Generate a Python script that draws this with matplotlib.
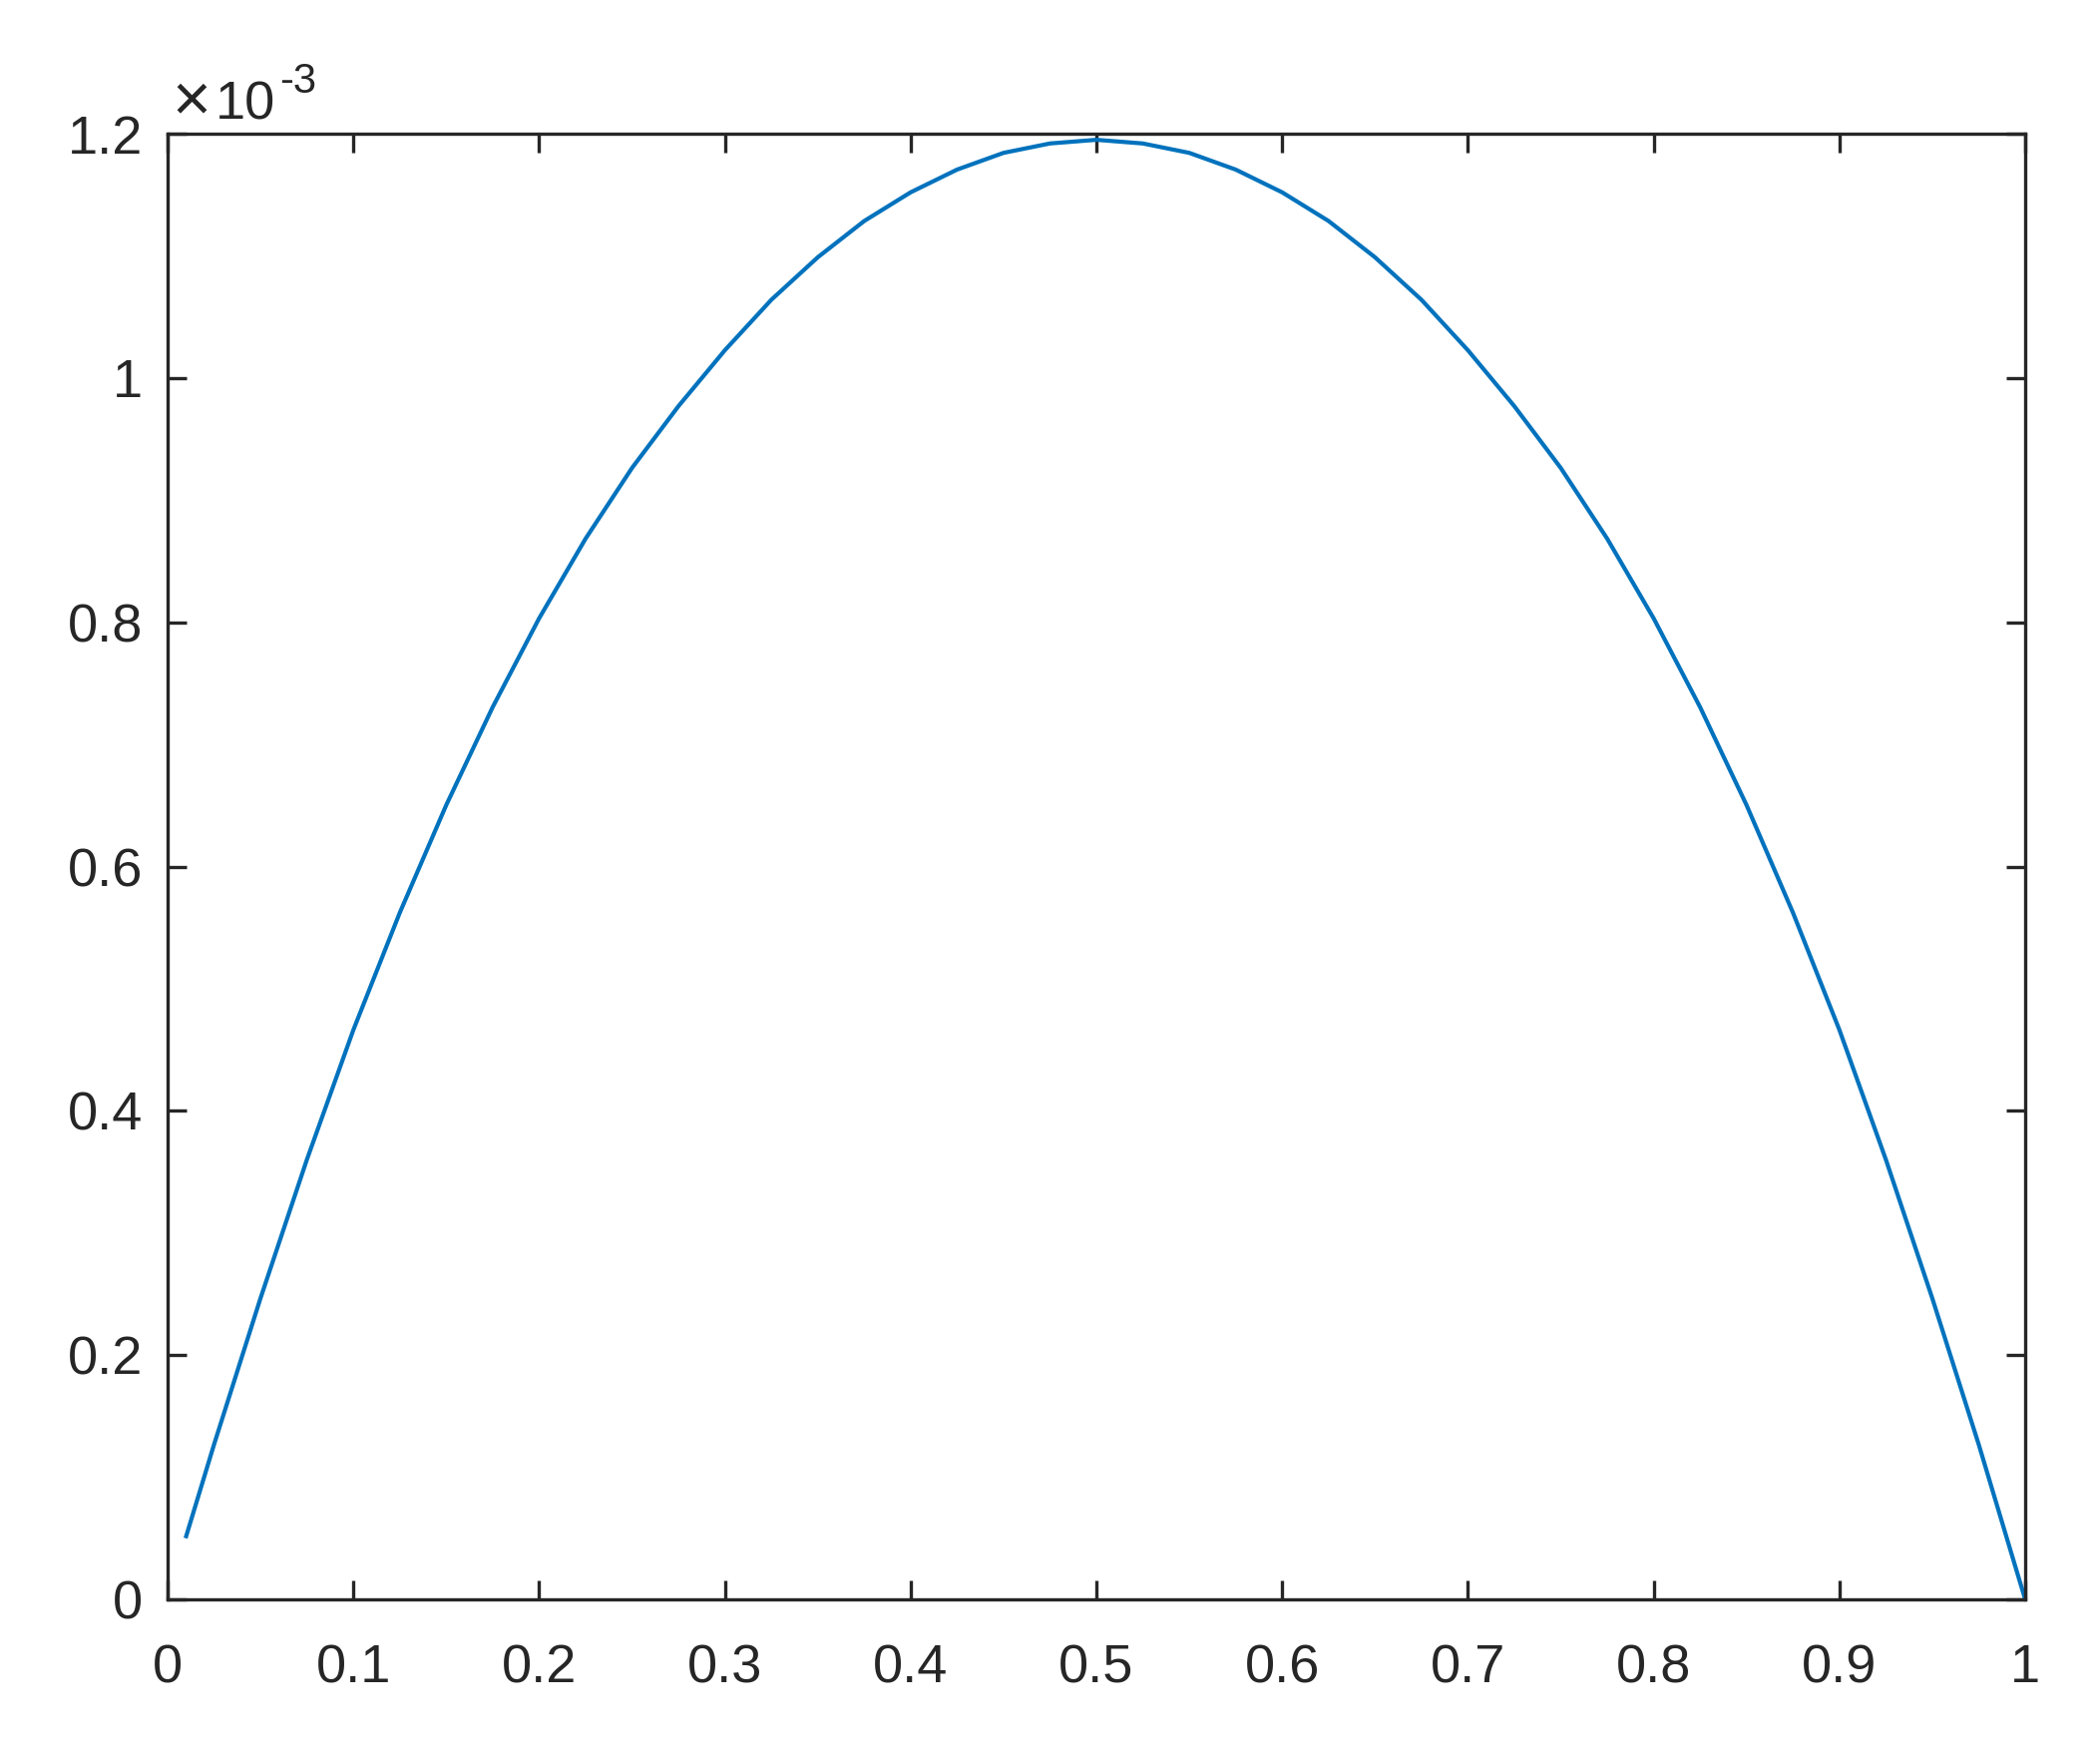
import matplotlib
matplotlib.use("Agg")
import matplotlib.pyplot as plt

# Data (y in units of 1e-3)
x_vals = [0.01, 0.025, 0.05, 0.075, 0.10, 0.125, 0.15, 0.175, 0.20, 0.225,
          0.25, 0.275, 0.30, 0.325, 0.35, 0.375, 0.40, 0.425, 0.45, 0.475,
          0.50, 0.525, 0.55, 0.575, 0.60, 0.625, 0.65, 0.675, 0.70, 0.725,
          0.75, 0.775, 0.80, 0.825, 0.85, 0.875, 0.90, 0.925, 0.95, 0.975, 1.0]
y_vals = [0.0517, 0.1268, 0.2465, 0.3601, 0.4662, 0.5622, 0.6503, 0.7305, 0.8032, 0.8684,
          0.9263, 0.9769, 1.0227, 1.0640, 1.0988, 1.1285, 1.1520, 1.1706, 1.1843, 1.1920,
          1.1950, 1.1920, 1.1843, 1.1706, 1.1520, 1.1285, 1.0988, 1.0640, 1.0227, 0.9769,
          0.9263, 0.8684, 0.8032, 0.7305, 0.6503, 0.5622, 0.4662, 0.3601, 0.2465, 0.1268, 0.0]

x_ticks = [0, 0.1, 0.2, 0.3, 0.4, 0.5, 0.6, 0.7, 0.8, 0.9, 1.0]
x_ticklabels = ["0", "0.1", "0.2", "0.3", "0.4", "0.5", "0.6", "0.7", "0.8", "0.9", "1"]
y_ticks = [0, 0.2, 0.4, 0.6, 0.8, 1.0, 1.2]
y_ticklabels = ["0", "0.2", "0.4", "0.6", "0.8", "1", "1.2"]

plt.rcParams['font.family'] = ['Liberation Sans', 'DejaVu Sans']

dark = '#262626'
W, H = 2105, 1761
fig = plt.figure(figsize=(W/100, H/100), dpi=100)
ax = fig.add_axes([168/W, 1-1603/H, (2030-168)/W, (1603-134)/H])

ax.plot(x_vals, y_vals, color='#0072BD', lw=3.0, solid_joinstyle='round')

ax.set_xlim(0, 1)
ax.set_ylim(0, 1.2)
ax.set_xticks(x_ticks)
ax.set_xticklabels(x_ticklabels)
ax.set_yticks(y_ticks)
ax.set_yticklabels(y_ticklabels)

for s in ax.spines.values():
    s.set_linewidth(2.4)
    s.set_color(dark)
ax.tick_params(axis='both', direction='in', length=14, width=2.4, color=dark,
               labelcolor=dark, labelsize=39, top=True, right=True)
ax.tick_params(axis='y', pad=18)
ax.tick_params(axis='x', pad=32)

fig.text(172/W, 1-120/H, '\u00d7', fontsize=48, color=dark, ha='left', va='baseline')
fig.text(216/W, 1-120/H, '10', fontsize=39, color=dark, ha='left', va='baseline')
fig.text(280/W, 1-93/H, '-3', fontsize=30, color=dark, ha='left', va='baseline')

fig.savefig('out.png', dpi=100, facecolor='white')
